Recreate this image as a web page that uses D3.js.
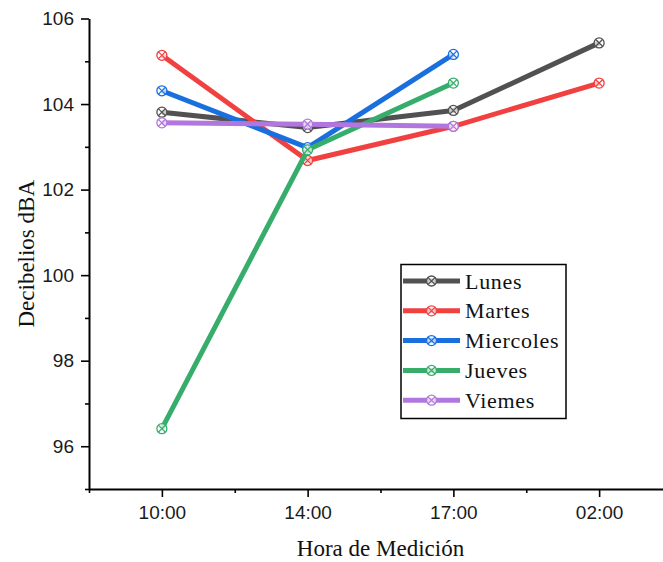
<!DOCTYPE html>
<html>
<head>
<meta charset="utf-8">
<script src="https://cdn.jsdelivr.net/npm/d3@7"></script>
<style>
  html, body { margin: 0; padding: 0; background: #fff; }
  svg { display: block; }
</style>
</head>
<body>
<svg id="chart" width="663" height="562"></svg>
<script>
// Measurement times (categorical x axis)
const horas = ["10:00", "14:00", "17:00", "02:00"];

// Sound level per weekday, dBA (null = not measured)
const lunes     = [103.81, 103.45, 103.85, 105.43];
const martes    = [105.14, 102.68, 103.48, 104.49];
const miercoles = [104.31, 102.98, 105.16, null];
const jueves    = [96.41, 102.93, 104.49, null];
const viernes   = [103.56, 103.53, 103.48, null];

const seriesNames  = ["Lunes", "Martes", "Miercoles", "Jueves", "Viemes"];
const seriesValues = [lunes, martes, miercoles, jueves, viernes];
const seriesColors = ["#515151", "#F14040", "#1A6FDF", "#37AD6B", "#B177DE"];

const yTicks = [96, 98, 100, 102, 104, 106];
const yMinor = [95, 97, 99, 101, 103, 105];

const svg = d3.select("#chart");
const plotLeft = 89, plotRight = 672, plotTop = 18.5, plotBottom = 489;

const x = d3.scaleLinear().domain([-0.5, horas.length - 0.5]).range([plotLeft, plotRight]);
const y = d3.scaleLinear().domain([95, 106]).range([plotBottom, plotTop]);

const serif = "'Liberation Serif', 'Times New Roman', serif";
const sans = "'Liberation Sans', Arial, sans-serif";

// ---- Y axis ----
svg.append("g").attr("transform", `translate(${plotLeft},0)`)
  .call(d3.axisLeft(y).tickValues(yTicks).tickFormat(d3.format("d"))
    .tickSize(8).tickPadding(7).tickSizeOuter(0));
svg.append("g").attr("transform", `translate(${plotLeft},0)`)
  .call(d3.axisLeft(y).tickValues(yMinor).tickFormat("").tickSize(4).tickSizeOuter(0))
  .call(g => g.select(".domain").remove());

// ---- X axis ----
svg.append("g").attr("transform", `translate(0,${plotBottom})`)
  .call(d3.axisBottom(x).tickValues(d3.range(horas.length)).tickFormat(i => horas[i])
    .tickSize(8).tickPadding(9).tickSizeOuter(0));
svg.append("g").attr("transform", `translate(0,${plotBottom})`)
  .call(d3.axisBottom(x).tickValues(d3.range(-0.5, horas.length, 1)).tickFormat("").tickSize(4).tickSizeOuter(0))
  .call(g => g.select(".domain").remove());

svg.selectAll(".domain").attr("stroke", "#000").attr("stroke-width", 2);
svg.selectAll(".tick line").attr("stroke", "#000").attr("stroke-width", 1.6);
svg.selectAll(".tick text").attr("font-family", sans).attr("font-size", 19).attr("fill", "#1a1a1a");

// ---- Axis titles ----
svg.append("text")
  .attr("transform", `translate(34,${(plotTop + plotBottom) / 2}) rotate(-90)`)
  .attr("text-anchor", "middle")
  .attr("font-family", serif).attr("font-size", 23).attr("fill", "#111")
  .text("Decibelios dBA");

svg.append("text")
  .attr("x", (plotLeft + plotRight) / 2).attr("y", 556)
  .attr("text-anchor", "middle")
  .attr("font-family", serif).attr("font-size", 23).attr("fill", "#111")
  .text("Hora de Medición");

// ---- Crossed-circle marker ----
function marker(g, cx, cy, color) {
  const r = 5;
  const m = g.append("g").attr("transform", `translate(${cx},${cy})`);
  m.append("circle").attr("r", r).attr("fill", "#fff").attr("fill-opacity", 0.7)
    .attr("stroke", color).attr("stroke-width", 1.3);
  const d = r * 0.72;
  m.append("path").attr("d", `M${-d},${-d}L${d},${d}M${-d},${d}L${d},${-d}`)
    .attr("stroke", color).attr("stroke-width", 1.2);
}

// ---- Lines ----
const line = d3.line()
  .defined(d => d.v !== null)
  .x(d => x(d.i)).y(d => y(d.v));

seriesValues.forEach((vals, k) => {
  const pts = vals.map((v, i) => ({ i, v }));
  const g = svg.append("g");
  g.append("path").datum(pts)
    .attr("d", line).attr("fill", "none")
    .attr("stroke", seriesColors[k]).attr("stroke-width", 5)
    .attr("stroke-linejoin", "round");
  pts.filter(p => p.v !== null).forEach(p => marker(g, x(p.i), y(p.v), seriesColors[k]));
});

// ---- Legend ----
const lg = svg.append("g");
lg.append("rect").attr("x", 401).attr("y", 264.5).attr("width", 165).attr("height", 154)
  .attr("fill", "#fff").attr("stroke", "#000").attr("stroke-width", 1.5);
seriesNames.forEach((name, k) => {
  const cy = 281 + k * 29.8;
  lg.append("line").attr("x1", 403).attr("x2", 460).attr("y1", cy).attr("y2", cy)
    .attr("stroke", seriesColors[k]).attr("stroke-width", 5);
  marker(lg, 431.5, cy, seriesColors[k]);
  lg.append("text").attr("x", 465).attr("y", cy + 7.5)
    .attr("font-family", serif).attr("font-size", 22).attr("letter-spacing", 0.7)
    .attr("fill", "#111").text(name);
});
</script>
</body>
</html>
